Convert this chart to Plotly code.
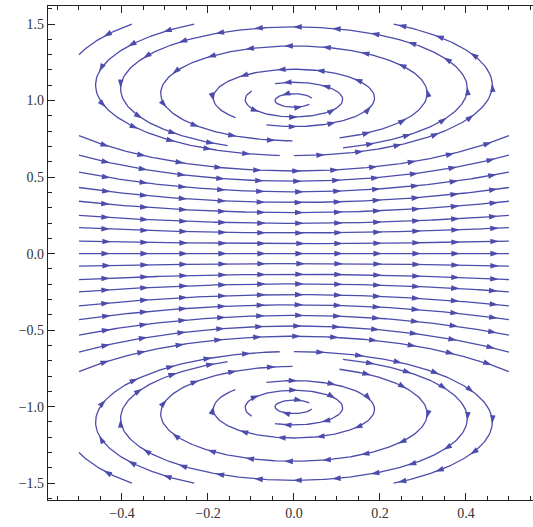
import math
import plotly.graph_objects as go

# ---------------- data ----------------
# vector field: u = U0 + U1*x^2 + U2*y^2 ,  v = V1*x*y
U_COEF = [1.0, 1.0, -1.0]
V_COEF = [2.0]
X_DOMAIN = [-0.5, 0.5]
Y_DOMAIN = [-1.5, 1.5]
X_RANGE = [-0.572, 0.556]
Y_RANGE = [-1.610, 1.618]
X_TICKS = [-0.4, -0.2, 0.0, 0.2, 0.4]
X_TICK_LABELS = ["\u22120.4", "\u22120.2", "0.0", "0.2", "0.4"]
Y_TICKS = [-1.5, -1.0, -0.5, 0.0, 0.5, 1.0, 1.5]
Y_TICK_LABELS = ["\u22121.5", "\u22121.0", "\u22120.5", "0.0", "0.5", "1.0", "1.5"]

# band streamlines: start on the left edge at these heights
BAND_START_Y = [0.771, 0.643, 0.532, 0.432, 0.342, 0.250, 0.170, 0.082, 0.0,
                -0.082, -0.170, -0.250, -0.342, -0.432, -0.532, -0.643, -0.771]
# vortex streamlines: start / end points (nan = run until closed/exit)
LOOP_START_X = [0.0413, -0.0982, -0.0641, 0.106, 0.114, 0.0, -0.232, -0.377,
                0.0413, -0.0982, -0.0641, 0.106, 0.114, 0.0, -0.232, -0.377]
LOOP_START_Y = [1.016, 1.0631, 0.8413, 0.7557, 0.6915, 0.640, 1.5, 1.5,
                -1.016, -1.0631, -0.8413, -0.7557, -0.6915, -0.640, -1.5, -1.5]
LOOP_END_X = [0.038, -0.0479, -0.1325, 0.0, -0.15, float("nan"), -0.03, float("nan"),
              0.038, -0.0479, -0.1325, 0.0, -0.15, float("nan"), -0.03, float("nan")]
LOOP_END_Y = [0.979, 1.1092, 0.8849, 0.737, 0.704, float("nan"), 0.641, float("nan"),
              -0.979, -1.1092, -0.8849, -0.737, -0.704, float("nan"), -0.641, float("nan")]

# ---------------- layout geometry ----------------
W, H = 533, 527
ML, MR, MT, MB = 48, 0, 6, 27
PW, PH = W - ML - MR, H - MT - MB
SX = PW / (X_RANGE[1] - X_RANGE[0])
SY = PH / (Y_RANGE[1] - Y_RANGE[0])

LINE_COLOR = "rgb(76,76,172)"
DTEST = 3.5
STEP = 1.0
MAXSTEPS = 3000
ARROW_OFF = 31.0
ARROW_SP = 38.8
CELL = 8.0

XMIN, XMAX = X_DOMAIN[0] * SX, X_DOMAIN[1] * SX
YMIN, YMAX = Y_DOMAIN[0] * SY, Y_DOMAIN[1] * SY


def field(x, y):
    u = U_COEF[0] + U_COEF[1] * x * x + U_COEF[2] * y * y
    v = V_COEF[0] * x * y
    return u, v


def dirn(X, Y):
    u, v = field(X / SX, Y / SY)
    a, b = u * SX, v * SY
    n = math.hypot(a, b)
    if n < 1e-6:
        return None
    return a / n, b / n


def inside(X, Y):
    return XMIN - 1e-6 <= X <= XMAX + 1e-6 and YMIN - 1e-6 <= Y <= YMAX + 1e-6


grid = {}


def cell(X, Y):
    return (int(math.floor(X / CELL)), int(math.floor(Y / CELL)))


def near_other(X, Y, d):
    ci, cj = cell(X, Y)
    d2 = d * d
    for i in range(ci - 1, ci + 2):
        for j in range(cj - 1, cj + 2):
            for p in grid.get((i, j), ()):
                if (p[0] - X) ** 2 + (p[1] - Y) ** 2 < d2:
                    return True
    return False


def trace(X0, Y0, end=None):
    pts = [(X0, Y0)]
    X, Y = X0, Y0
    travelled = 0.0
    for k in range(1, MAXSTEPS):
        d1 = dirn(X, Y)
        if d1 is None:
            break
        xm, ym = X + 0.5 * STEP * d1[0], Y + 0.5 * STEP * d1[1]
        d2 = dirn(xm, ym)
        if d2 is None:
            break
        Xn, Yn = X + STEP * d2[0], Y + STEP * d2[1]
        if not inside(Xn, Yn):
            t = 1.0
            dx, dy = Xn - X, Yn - Y
            if Xn > XMAX and dx != 0: t = min(t, (XMAX - X) / dx)
            if Xn < XMIN and dx != 0: t = min(t, (XMIN - X) / dx)
            if Yn > YMAX and dy != 0: t = min(t, (YMAX - Y) / dy)
            if Yn < YMIN and dy != 0: t = min(t, (YMIN - Y) / dy)
            pts.append((X + t * dx, Y + t * dy))
            break
        travelled += STEP
        if near_other(Xn, Yn, DTEST):
            break
        if end is not None:
            if travelled > 20 and math.hypot(Xn - end[0], Yn - end[1]) < 2.0:
                pts.append((Xn, Yn))
                break
        elif travelled > 30 and math.hypot(Xn - X0, Yn - Y0) < 10.0:
            break
        pts.append((Xn, Yn))
        X, Y = Xn, Yn
    return pts


def add_line(x0, y0, xe=float("nan"), ye=float("nan")):
    end = None if math.isnan(xe) else (xe * SX, ye * SY)
    line = trace(x0 * SX, y0 * SY, end)
    for p in line:
        grid.setdefault(cell(p[0], p[1]), []).append(p)
    return line


lines = []
for yb in BAND_START_Y:
    lines.append(add_line(X_DOMAIN[0], yb))
for xs, ys, xe, ye in zip(LOOP_START_X, LOOP_START_Y, LOOP_END_X, LOOP_END_Y):
    lines.append(add_line(xs, ys, xe, ye))

# ---------------- build traces ----------------
lx, ly = [], []
ax, ay, aang = [], [], []
for ln in lines:
    if len(ln) < 2:
        continue
    for k in range(0, len(ln), 2):
        lx.append(ln[k][0] / SX)
        ly.append(ln[k][1] / SY)
    lx.append(ln[-1][0] / SX)
    ly.append(ln[-1][1] / SY)
    lx.append(None)
    ly.append(None)
    s = 0.0
    target = ARROW_OFF
    for k in range(1, len(ln)):
        s += math.hypot(ln[k][0] - ln[k - 1][0], ln[k][1] - ln[k - 1][1])
        if s >= target:
            d = dirn(ln[k][0], ln[k][1])
            if d is not None:
                ax.append(ln[k][0] / SX)
                ay.append(ln[k][1] / SY)
                aang.append(math.degrees(math.atan2(d[0], d[1])))
            target += ARROW_SP

fig = go.Figure()
fig.add_trace(go.Scatter(x=lx, y=ly, mode="lines",
                         line=dict(color=LINE_COLOR, width=1.3),
                         hoverinfo="skip", showlegend=False))
fig.add_trace(go.Scatter(x=ax, y=ay, mode="markers",
                         marker=dict(symbol="arrow", size=9, angle=aang,
                                     color=LINE_COLOR, line=dict(width=0)),
                         hoverinfo="skip", showlegend=False))

tickfont = dict(family="Liberation Serif, Times New Roman, serif", size=14, color="#333")
fig.update_layout(
    width=W, height=H, autosize=False,
    margin=dict(l=ML, r=MR, t=MT, b=MB, pad=0),
    paper_bgcolor="white", plot_bgcolor="white",
    xaxis=dict(range=X_RANGE, tickvals=X_TICKS, ticktext=X_TICK_LABELS,
               showgrid=False, zeroline=False, showline=True, linecolor="#222", linewidth=1.3,
               mirror="ticks", ticks="inside", ticklen=7, tickwidth=1, tickcolor="#222",
               minor=dict(dtick=0.05, tick0=0, ticks="inside", ticklen=4, tickwidth=1, tickcolor="#222"),
               tickfont=tickfont, fixedrange=True),
    yaxis=dict(range=Y_RANGE, tickvals=Y_TICKS, ticktext=Y_TICK_LABELS,
               showgrid=False, zeroline=False, showline=True, linecolor="#222", linewidth=1.3,
               mirror=False, ticks="inside", ticklen=7, tickwidth=1, tickcolor="#222",
               minor=dict(dtick=0.1, tick0=0, ticks="inside", ticklen=4, tickwidth=1, tickcolor="#222"),
               tickfont=tickfont, fixedrange=True),
)
fig.write_html("out.html", config={"displayModeBar": False},
               post_script="document.body.style.margin='0';document.body.style.overflow='hidden';")
